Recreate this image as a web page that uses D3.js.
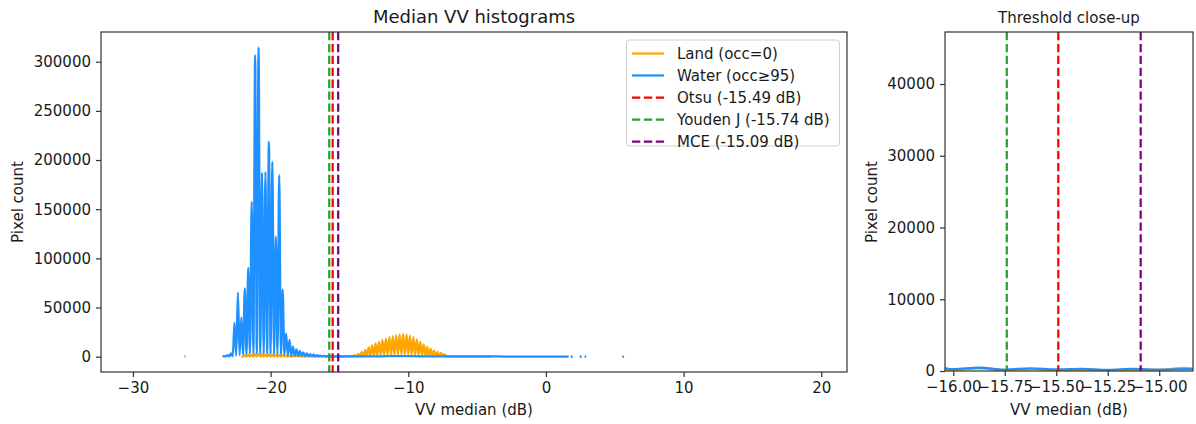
<!DOCTYPE html>
<html>
<head>
<meta charset="utf-8">
<script src="https://cdn.jsdelivr.net/npm/d3@7"></script>
<style>
  body { margin: 0; background: #fff; }
  text { font-family: "DejaVu Sans", sans-serif; fill: #1a1a1a; }
</style>
</head>
<body>
<div id="chart"></div>
<script>
// histogram counts (bin centre in dB, pixel count; null = gap)
const waterDb = [-26.25, -26.18, -25.0,
  -23.5, -23.375, -23.25, -23.125, -23.0, -22.875, -22.75, -22.625, -22.5, -22.375, -22.25, -22.125, -22.0,
  -21.875, -21.75, -21.625, -21.5, -21.375, -21.25, -21.125, -21.0, -20.875, -20.75, -20.625, -20.5, -20.375,
  -20.25, -20.125, -20.0, -19.875, -19.75, -19.625, -19.5, -19.375, -19.25, -19.125, -19.0, -18.875, -18.75,
  -18.625, -18.5, -18.375, -18.25, -18.125, -18.0, -17.875, -17.75, -17.625, -17.5, -17.375, -17.25, -17.125,
  -17.0, -16.875, -16.75, -16.625, -16.5, -16.375, -16.25, -16.125, -16.0, -15.875, -15.75, -15.625, -15.5,
  -15.375, -15.25, -15.125, -15.0, -14.875, -14.75, -14.5, -14.0, -13.0, -12.0, -11.0, -10.0, -9.0, -8.0, -7.0,
  -6.0, -5.0, -4.0, -3.0, -2.0, -1.0, 0.0, 1.0, 1.65, 1.72, 1.8, 1.95, 2.2, 2.45, 2.6, 2.7, 2.8, 2.92, 3.5, 5.55, 5.68];
const waterCount = [300, 300, null,
  300, 600, 200, 1500, 300, 3500, 500, 34300, 1000, 65100, 1500, 40000, 2000,
  69500, 2500, 90500, 3000, 157600, 3000, 306800, 3000, 314600, 3000, 187100, 3000, 187800,
  3000, 218600, 3000, 198300, 2500, 122000, 2500, 184800, 2000, 68500, 2000, 23800, 1500,
  17000, 1200, 10200, 1000, 7500, 800, 5800, 700, 4500, 600, 3400, 500, 2600,
  400, 2000, 400, 1600, 300, 1200, 300, 900, 250, 480, 200, 380, 220,
  300, 150, 280, 200, 260, 200, 300, 350, 400, 450, 500, 500, 450, 400, 350,
  300, 250, 250, 200, 200, 150, 150, 100, 80, null, 60, 60, null, 40, 40, null, 40, 40, null, 40, 40];

const landDb = [-22.125, -22.0, -21.875, -21.75, -21.625, -21.5, -21.375, -21.25, -21.125, -21.0, -20.875,
  -20.75, -20.625, -20.5, -20.375, -20.25, -20.125, -20.0, -19.875, -19.75, -19.625, -19.5, -19.375, -19.25,
  -19.125, -19.0, -18.875, -18.75, -18.625, -18.5, -18.375, -18.0, -17.5, -17.0, -16.5, -16.125, -16.0,
  -15.875, -15.75, -15.625, -15.5, -15.375, -15.25, -15.125, -15.0, -14.875, -14.75, -14.625, -14.5, -14.375,
  -14.25, -14.125, -14.0, -13.875, -13.75, -13.625, -13.5, -13.375, -13.25, -13.125, -13.0, -12.875, -12.75,
  -12.625, -12.5, -12.375, -12.25, -12.125, -12.0, -11.875, -11.75, -11.625, -11.5, -11.375, -11.25, -11.125,
  -11.0, -10.875, -10.75, -10.625, -10.5, -10.375, -10.25, -10.125, -10.0, -9.875, -9.75, -9.625, -9.5,
  -9.375, -9.25, -9.125, -9.0, -8.875, -8.75, -8.625, -8.5, -8.375, -8.25, -8.125, -8.0, -7.875, -7.75,
  -7.625, -7.5, -7.375, -7.25, -7.125, -7.0, -6.875, -6.5, -6.0, -4.0];
const landCount = [300, 100, 1500, 200, 2000, 200, 2200, 200, 2500, 200, 2600,
  200, 2500, 200, 2400, 200, 2300, 200, 2100, 200, 1900, 200, 1700, 150,
  1500, 150, 1200, 100, 1000, 100, 800, 500, 400, 350, 300, 250, 150,
  350, 100, 250, 120, 200, 100, 200, 150, 450, 150, 500, 150, 650,
  200, 800, 200, 1500, 300, 2800, 400, 4800, 600, 7000, 800, 9500, 1000,
  11500, 1200, 13500, 1400, 15300, 1600, 17000, 1800, 18500, 2000, 19800, 2100, 21000,
  2200, 22000, 2300, 22800, 2400, 23300, 2400, 22800, 2300, 21500, 2200, 19800, 2000,
  17500, 1800, 15000, 1500, 12500, 1200, 10000, 1000, 8000, 800, 6300, 700, 5000, 600,
  3800, 500, 2600, 300, 800, 200, 200, 50, 0, 0];

const thresholdNames = ["Otsu", "Youden J", "MCE"];
const thresholdValues = [-15.49, -15.74, -15.09];
const thresholdColors = ["#ff0000", "#2ca02c", "#800080"];

const mainXTicks = [-30, -20, -10, 0, 10, 20];
const mainYTicks = [0, 50000, 100000, 150000, 200000, 250000, 300000];
const zoomXTicks = [-16.0, -15.75, -15.5, -15.25, -15.0];
const zoomYTicks = [0, 10000, 20000, 30000, 40000];

const LAND = "#ffa500", WATER = "#1e90ff";
const LW = 2.25, DASH = "8.3,3.6";

const W = 1196, H = 424;
const svg = d3.select("#chart").append("svg").attr("width", W).attr("height", H);
svg.append("rect").attr("width", W).attr("height", H).attr("fill", "#fff");

const land = landDb.map((x, i) => ({ x, y: landCount[i] }));
const water = waterDb.map((x, i) => ({ x, y: waterCount[i] }));

function panel(box, xDom, yDom, xTicks, yTicks, xFmt, title, titleSize, id) {
  const x = d3.scaleLinear().domain(xDom).range([box.x0, box.x1]);
  const y = d3.scaleLinear().domain(yDom).range([box.y1, box.y0]);
  svg.append("clipPath").attr("id", id).append("rect")
    .attr("x", box.x0).attr("y", box.y0).attr("width", box.x1 - box.x0).attr("height", box.y1 - box.y0);
  const g = svg.append("g").attr("clip-path", `url(#${id})`);
  const line = d3.line().defined(d => d.y != null).x(d => x(d.x)).y(d => y(d.y))
    .curve(d3.curveMonotoneX);
  g.append("path").datum(land).attr("d", line).attr("fill", "none").attr("stroke", LAND)
    .attr("stroke-width", LW).attr("stroke-linejoin", "round");
  g.append("path").datum(water).attr("d", line).attr("fill", "none").attr("stroke", WATER)
    .attr("stroke-width", LW).attr("stroke-linejoin", "round");
  thresholdValues.forEach((t, i) => {
    g.append("line").attr("x1", x(t)).attr("x2", x(t)).attr("y1", box.y0).attr("y2", box.y1)
      .attr("stroke", thresholdColors[i]).attr("stroke-width", LW).attr("stroke-dasharray", DASH);
  });

  const xa = svg.append("g").attr("transform", `translate(0,${box.y1})`)
    .call(d3.axisBottom(x).tickValues(xTicks).tickFormat(xFmt).tickSize(5).tickPadding(5));
  const ya = svg.append("g").attr("transform", `translate(${box.x0},0)`)
    .call(d3.axisLeft(y).tickValues(yTicks).tickFormat(d3.format("d")).tickSize(5).tickPadding(5));
  [xa, ya].forEach(a => {
    a.select(".domain").remove();
    a.selectAll("line").attr("stroke", "#333").attr("stroke-width", 1.2);
    a.selectAll("text").attr("font-size", 15).attr("font-family", "DejaVu Sans").attr("fill", "#1a1a1a");
  });
  svg.append("rect").attr("x", box.x0).attr("y", box.y0).attr("width", box.x1 - box.x0)
    .attr("height", box.y1 - box.y0).attr("fill", "none").attr("stroke", "#333").attr("stroke-width", 1.2);

  const cx = (box.x0 + box.x1) / 2;
  svg.append("text").attr("x", cx).attr("y", box.y0 - 9).attr("text-anchor", "middle")
    .attr("font-size", titleSize).text(title);
  svg.append("text").attr("x", cx).attr("y", 415).attr("text-anchor", "middle")
    .attr("font-size", 15).text("VV median (dB)");
  return { x, y };
}

panel({ x0: 101, x1: 847, y0: 32, y1: 372 }, [-32.32, 21.87], [-15560, 330200],
  mainXTicks, mainYTicks, d3.format("d"), "Median VV histograms", 18, "clipMain");
panel({ x0: 945, x1: 1193, y0: 32, y1: 371 }, [-16.04, -14.836], [0, 47250],
  zoomXTicks, zoomYTicks, d3.format(".2f"), "Threshold close-up", 15, "clipZoom");

[[18, 202], [872, 202]].forEach(([lx, ly]) => {
  svg.append("text").attr("transform", `translate(${lx},${ly}) rotate(-90)`)
    .attr("text-anchor", "middle").attr("dy", "0.35em").attr("font-size", 15).text("Pixel count");
});

// legend
const legendItems = [
  { label: "Land (occ=0)", color: LAND, dash: null },
  { label: "Water (occ\u226595)", color: WATER, dash: null },
  ...thresholdNames.map((n, i) => ({
    label: `${n} (${d3.format(".2f")(thresholdValues[i]).replace("\u2212", "-")} dB)`,
    color: thresholdColors[i], dash: DASH }))
];
const lg = svg.append("g");
lg.append("rect").attr("x", 626.5).attr("y", 40).attr("width", 213).attr("height", 106).attr("rx", 3)
  .attr("fill", "#fff").attr("fill-opacity", 0.8).attr("stroke", "#d0d0d0").attr("stroke-width", 1);
legendItems.forEach((d, i) => {
  const yy = 53.5 + i * 22;
  lg.append("line").attr("x1", 632).attr("x2", 664).attr("y1", yy).attr("y2", yy)
    .attr("stroke", d.color).attr("stroke-width", LW).attr("stroke-dasharray", d.dash);
  lg.append("text").attr("x", 677).attr("y", yy + 5.5).attr("font-size", 15).text(d.label);
});
</script>
</body>
</html>
